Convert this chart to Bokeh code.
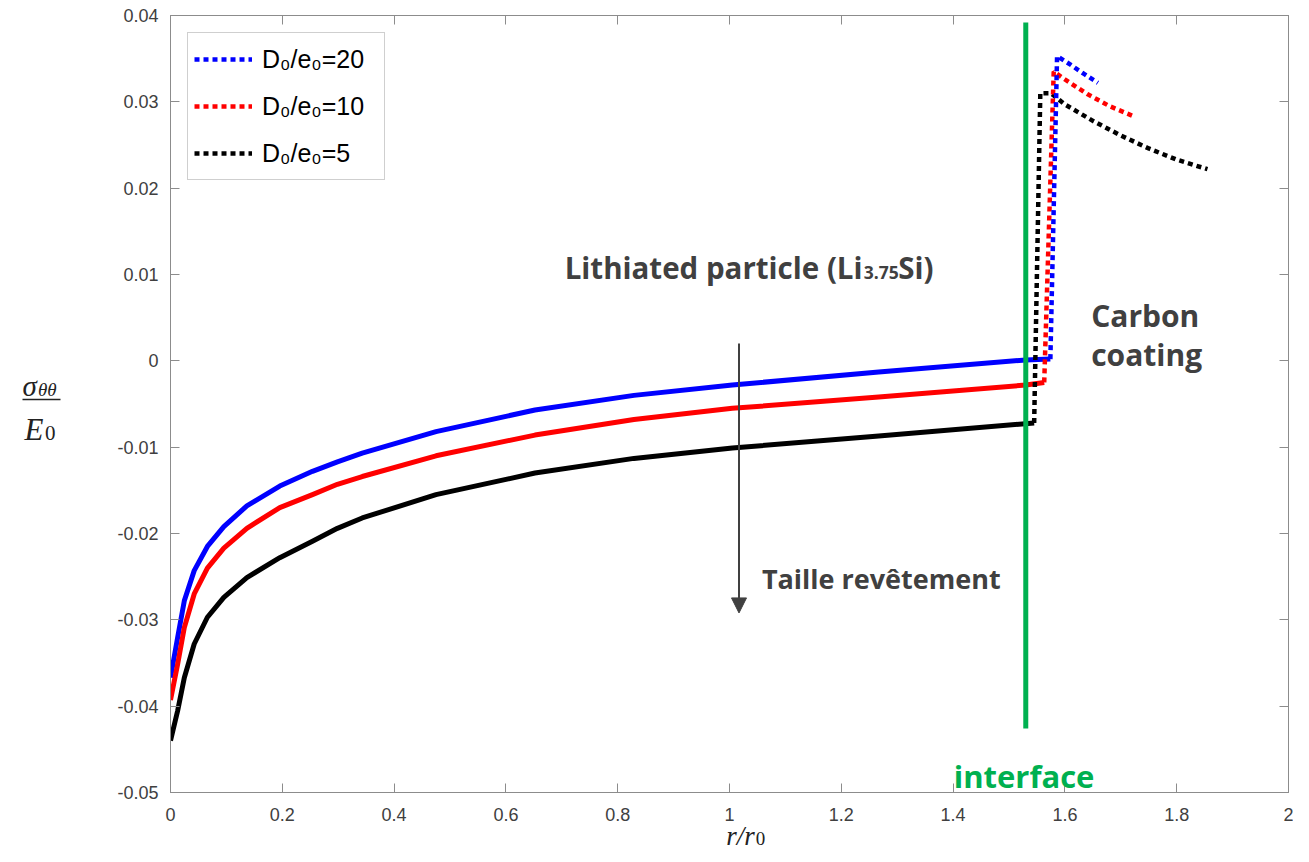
from bokeh.plotting import figure
from bokeh.layouts import row, column
from bokeh.models import Range1d, FixedTicker, LinearAxis, Label, Arrow, NormalHead, Legend, LegendItem
from bokeh.core.properties import value
from bokeh.embed import file_html
from bokeh.resources import INLINE

# ---------------- data ----------------
# particle (solid): r/r0 and sigma_theta_theta/E0
r_blue = [0, 0.0129, 0.0247, 0.0424, 0.066, 0.0954, 0.1366, 0.1955, 0.254, 0.2986, 0.343,
          0.475, 0.652, 0.829, 1.005, 1.267, 1.53, 1.574]
s_blue = [-0.0367, -0.0320, -0.0278, -0.0243, -0.0215, -0.0192, -0.0168, -0.0145, -0.0128, -0.0117,
          -0.0107, -0.0082, -0.0057, -0.0040, -0.0028, -0.0013, 0.0001, 0.0002]
r_red = [0, 0.0129, 0.0247, 0.0424, 0.066, 0.0954, 0.1366, 0.1955, 0.254, 0.2986, 0.343,
         0.475, 0.652, 0.829, 1.005, 1.267, 1.53, 1.563]
s_red = [-0.0393, -0.0351, -0.0309, -0.0270, -0.0240, -0.0217, -0.0194, -0.0170, -0.0155, -0.0143,
         -0.0134, -0.0110, -0.0086, -0.0068, -0.0055, -0.0042, -0.0028, -0.0025]
r_black = [0, 0.0129, 0.0247, 0.0424, 0.066, 0.0954, 0.1366, 0.1955, 0.254, 0.2986, 0.343,
           0.475, 0.652, 0.829, 1.005, 1.267, 1.545]
s_black = [-0.0440, -0.0405, -0.0367, -0.0328, -0.0297, -0.0274, -0.0251, -0.0228, -0.0209, -0.0194,
           -0.0182, -0.0155, -0.0130, -0.0113, -0.0101, -0.0087, -0.0072]

# coating (dotted)
rc_blue = [1.574, 1.586, 1.61, 1.635, 1.659]
sc_blue = [0.0002, 0.0353, 0.0343, 0.0332, 0.0322]
rc_red = [1.563, 1.580, 1.60, 1.64, 1.68, 1.724]
sc_red = [-0.0025, 0.0335, 0.0326, 0.0309, 0.0295, 0.0283]
rc_black = [1.545, 1.556, 1.575, 1.60, 1.65, 1.70, 1.75, 1.80, 1.855]
sc_black = [-0.0072, 0.0310, 0.0310, 0.0297, 0.0278, 0.0261, 0.0246, 0.0233, 0.0222]

series_names = ["D\u2080/e\u2080=20", "D\u2080/e\u2080=10", "D\u2080/e\u2080=5"]
series_colors = ["#0000ff", "#ff0000", "#000000"]

interface_x = [1.53, 1.53]
interface_y = [-0.0426, 0.0392]

arrow_x = [1.017, 1.017]
arrow_y = [0.0020, -0.0292]

x_ticks = [0, 0.2, 0.4, 0.6, 0.8, 1.0, 1.2, 1.4, 1.6, 1.8, 2.0]
x_tick_labels = ["0", "0.2", "0.4", "0.6", "0.8", "1", "1.2", "1.4", "1.6", "1.8", "2"]
y_ticks = [-0.05, -0.04, -0.03, -0.02, -0.01, 0.0, 0.01, 0.02, 0.03, 0.04]
y_tick_labels = ["-0.05", "-0.04", "-0.03", "-0.02", "-0.01", "0", "0.01", "0.02", "0.03", "0.04"]

# ---------------- layout sizes (px) ----------------
W, H = 1293, 846
LAB_W = 62                 # y-label strip on the left
FRAME_LEFT = 170           # frame left edge on the page canvas
FRAME_TOP = 15
FRAME_BOTTOM = 792
BORDER_RIGHT = 5
BORDER_BOTTOM = 11
MAIN_W = W - LAB_W
MAIN_H = FRAME_BOTTOM + BORDER_BOTTOM
XSTRIP_H = H - MAIN_H
BL = FRAME_LEFT - LAB_W
FRAME_W = MAIN_W - BL - BORDER_RIGHT
X0, X1 = 0.0, 2.0
PX_PER_X = FRAME_W / (X1 - X0)

AX = "#8c8c8c"
TXT = "#404040"
MATH = "#222222"
BOLD_FONT = "Open Sans"
TICK_FONT = "Liberation Sans"
TICK_SIZE = "18px"

p = figure(width=MAIN_W, height=MAIN_H, x_range=Range1d(X0, X1), y_range=Range1d(-0.05, 0.04),
           output_backend="svg", toolbar_location=None,
           min_border_left=BL, min_border_right=BORDER_RIGHT, min_border_top=FRAME_TOP,
           min_border_bottom=BORDER_BOTTOM)
p.xgrid.visible = False
p.ygrid.visible = False
p.outline_line_color = AX


def style_axis(ax, ticks, labels, show_labels=True):
    ax.ticker = FixedTicker(ticks=ticks)
    ax.minor_tick_line_color = None
    ax.major_tick_in = 9
    ax.major_tick_out = 0
    ax.axis_line_color = AX
    ax.major_tick_line_color = AX
    ax.major_label_text_font = TICK_FONT
    ax.major_label_text_color = TXT
    ax.major_label_text_font_size = TICK_SIZE
    if show_labels:
        ax.major_label_overrides = {t: l for t, l in zip(ticks, labels)}
        ax.major_label_standoff = 12
    else:
        ax.major_label_overrides = {t: "" for t in ticks}
        ax.major_label_standoff = 0


style_axis(p.xaxis[0], x_ticks, x_tick_labels, show_labels=False)   # labels drawn in strip below
style_axis(p.yaxis[0], y_ticks, y_tick_labels)
top_ax = LinearAxis()
style_axis(top_ax, x_ticks, x_tick_labels, show_labels=False)
p.add_layout(top_ax, "above")
right_ax = LinearAxis()
style_axis(right_ax, y_ticks, y_tick_labels, show_labels=False)
p.add_layout(right_ax, "right")

# solid particle curves
for rr, ss, c in [(r_blue, s_blue, series_colors[0]), (r_red, s_red, series_colors[1]),
                  (r_black, s_black, series_colors[2])]:
    p.line(rr, ss, line_color=c, line_width=5, line_join="round")

# dotted coating curves
coat = {}
for key, rr, ss, c in [("k", rc_black, sc_black, series_colors[2]), ("r", rc_red, sc_red, series_colors[1]),
                       ("b", rc_blue, sc_blue, series_colors[0])]:
    coat[key] = p.line(rr, ss, line_color=c, line_width=4.5, line_dash="5 4", line_cap="butt")

# interface line
p.line(interface_x, interface_y, line_color="#00b050", line_width=5)

# arrow
p.add_layout(Arrow(end=NormalHead(size=15, fill_color=TXT, line_color=TXT),
                   x_start=arrow_x[0], y_start=arrow_y[0], x_end=arrow_x[1], y_end=arrow_y[1],
                   line_color=TXT, line_width=2))

# legend
legend = Legend(items=[LegendItem(label=n, renderers=[coat[k]]) for n, k in zip(series_names, ["b", "r", "k"])],
                location="top_left", margin=17, padding=6, spacing=7,
                glyph_width=58, glyph_height=40, label_height=40, label_width=116, label_standoff=10,
                label_text_font=TICK_FONT, label_text_font_size="25px",
                label_text_color="#000000",
                border_line_color="#a0a0a0", border_line_width=1,
                background_fill_color="white", background_fill_alpha=1)
p.add_layout(legend)


def lab(x, y, text, size, color=TXT, font=BOLD_FONT, style="bold", align="left"):
    p.add_layout(Label(x=x, y=y, text=text, text_font=font, text_font_size=size,
                       text_font_style=style, text_color=color, text_align=align,
                       text_baseline="alphabetic"))


lab(1.238, 0.0108, "Lithiated particle (Li", "29.5px", align="right")
lab(1.240, 0.0102, "3.75", "17.5px")
lab(1.302, 0.0108, "Si)", "29.5px")
lab(1.647, 0.0053, "Carbon", "30px")
lab(1.647, 0.0007, "coating", "30px")
lab(1.058, -0.0252, "Taille revêtement", "27px")
lab(1.527, -0.0481, "interface", "31px", color="#00b050", align="center")

# ---------------- y-axis label strip (pixel coordinates) ----------------
ylab = figure(width=LAB_W, height=H, x_range=Range1d(0, LAB_W), y_range=Range1d(H, 0),
              output_backend="svg", toolbar_location=None,
              min_border_left=0, min_border_right=0, min_border_top=0, min_border_bottom=0)
ylab.axis.visible = False
ylab.grid.visible = False
ylab.outline_line_color = None
ylab_text_x = [22, 37.5, 24, 44.5]
ylab_text_y = [385, 389, 429, 432]
ylab_texts = ["σ", "θθ", "E", "0"]
ylab_sizes = ["29px", "19px", "31px", "21px"]
ylab_styles = ["italic", "italic", "italic", "normal"]
for tx, ty, tt, ts, st in zip(ylab_text_x, ylab_text_y, ylab_texts, ylab_sizes, ylab_styles):
    ylab.text(x=[tx], y=[ty], text=[tt], text_font=value("Liberation Serif"), text_font_size=ts,
              text_font_style=st, text_color=MATH, text_align="left", text_baseline="alphabetic")
ylab.segment(x0=[22], y0=[399], x1=[60], y1=[399], line_color=MATH, line_width=1.5)

# ---------------- x tick labels + x-axis label strip ----------------
# full-width strip whose x range is extended so that it lines up with the main frame
xs = figure(width=MAIN_W, height=XSTRIP_H,
            x_range=Range1d(X0 - BL / PX_PER_X, X1 + BORDER_RIGHT / PX_PER_X),
            y_range=Range1d(H, MAIN_H),
            output_backend="svg", toolbar_location=None,
            min_border_left=0, min_border_right=0, min_border_top=0, min_border_bottom=0)
xs.axis.visible = False
xs.grid.visible = False
xs.outline_line_color = None
xs.text(x=x_ticks, y=[814] * len(x_ticks), text=x_tick_labels, text_font=value(TICK_FONT),
        text_font_size=TICK_SIZE, text_color=TXT, text_align="center", text_baseline="middle")
xs.text(x=[1.045], y=[835], text=["r/r"], text_font=value("Liberation Serif"), text_font_size="27px",
        text_font_style="italic", text_color=MATH, text_align="right", text_baseline="alphabetic")
xs.text(x=[1.047], y=[838], text=["0"], text_font=value("Liberation Serif"), text_font_size="19px",
        text_color=MATH, text_align="left", text_baseline="alphabetic")

layout = row(ylab, column(p, row(xs, spacing=0), spacing=0), spacing=0)
open("out.html", "w").write(file_html(layout, INLINE))
